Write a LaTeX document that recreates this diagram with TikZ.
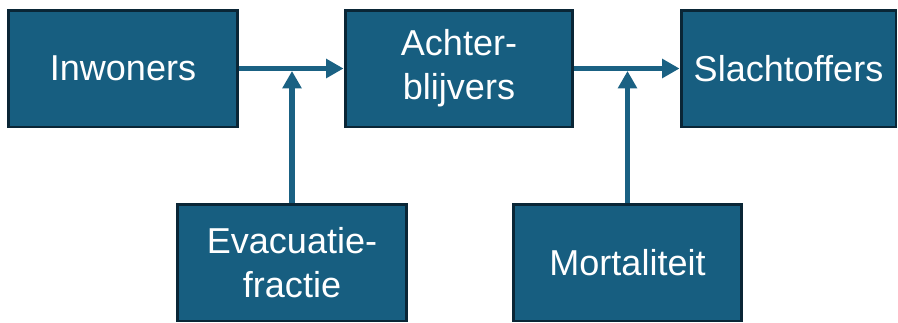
\documentclass[tikz,border=0pt]{standalone}
\usepackage{fontspec}
\setmainfont{Liberation Sans}
\usetikzlibrary{arrows.meta, positioning, calc}
\definecolor{boxblue}{RGB}{23,94,128}
\definecolor{boxedge}{RGB}{10,38,54}
\definecolor{linkblue}{RGB}{26,97,131}

\begin{document}
\begin{tikzpicture}[
    x=0.02cm, y=-0.02cm,
    block/.style={draw=boxedge, fill=boxblue, line width=1.7pt, text=white,
                  minimum height=2.34cm, align=center,
                  font=\fontsize{20.5}{25}\selectfont},
    arrow/.style={-{Triangle[length=0.35cm, width=0.37cm]}, line width=3pt, draw=linkblue}
]
    \useasboundingbox (0,0) rectangle (898,322);

    \node[block, minimum width=4.6cm] (inw) at (123,68.5) {Inwoners};
    \node[block, minimum width=4.56cm] (ach) at (459,68.5) {Achter-\\blijvers};
    \node[block, minimum width=4.3cm] (sla) at (788.5,68.5) {Slachtoffers};
    \node[block, minimum width=4.6cm] (eva) at (292,262.5) {Evacuatie-\\fractie};
    \node[block, minimum width=4.58cm] (mor) at (627.5,262.5) {Mortaliteit};

    \coordinate (j1) at (inw.east -| eva.north);
    \coordinate (j2) at (ach.east -| mor.north);

    \draw[arrow] (inw.east) -- (ach.west);
    \draw[arrow] (ach.east) -- (sla.west);
    \draw[arrow, shorten >=1.4pt] (eva.north) -- (j1);
    \draw[arrow, shorten >=1.4pt] (mor.north) -- (j2);
\end{tikzpicture}
\end{document}
